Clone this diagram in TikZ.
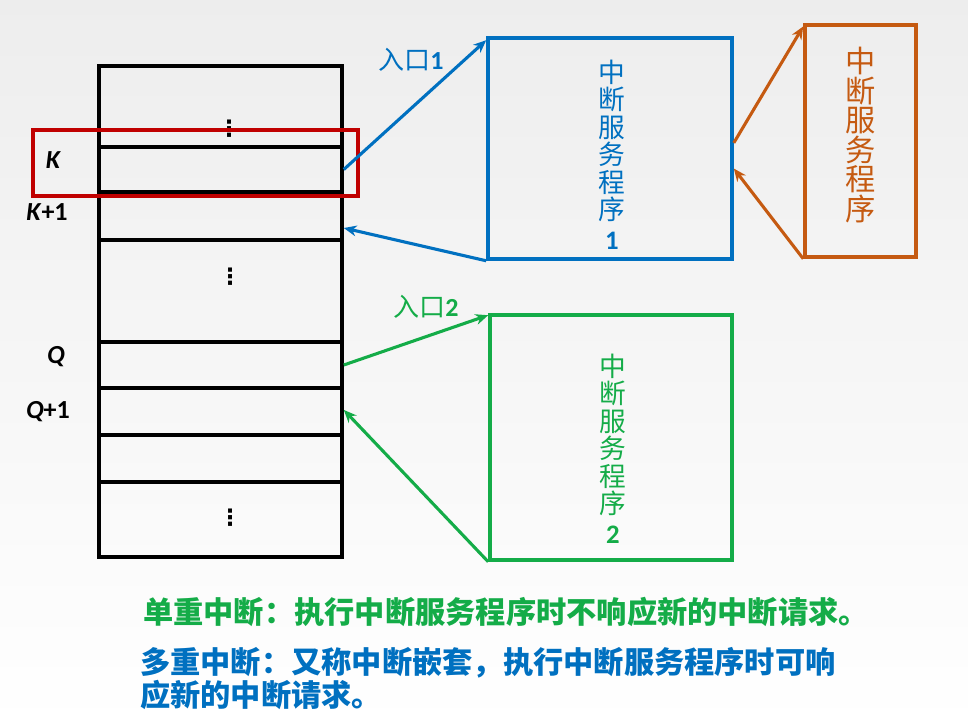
\documentclass[tikz,border=0pt]{standalone}
\usepackage{fontspec}
\setmainfont{Carlito}
\newfontfamily\cjk{Noto Sans CJK SC}
\newfontfamily\symfont{DejaVu Sans}
\usetikzlibrary{arrows.meta, positioning, calc}
\definecolor{progblue}{RGB}{0,112,192}
\definecolor{proggreen}{RGB}{20,172,72}
\definecolor{progorange}{RGB}{197,90,17}
\definecolor{markred}{RGB}{192,0,0}
\tikzset{
  cell/.style={rectangle, draw=black, line width=2.5pt, minimum width=6.075cm, inner sep=0pt},
  progbox/.style={rectangle, line width=2.5pt, align=center, inner sep=0pt},
  progtext/.style={align=center, inner sep=0pt, font=\cjk\fontsize{19}{19.5}\selectfont},
  addr/.style={font=\fontsize{18.5}{18.5}\selectfont\bfseries\itshape},
  entry/.style={font=\cjk\fontsize{18.5}{18.5}\selectfont},
  dots/.style={font=\symfont\bfseries\fontsize{16}{16}\selectfont, inner sep=0pt},
  flow/.style={-{Stealth[length=3.2mm, width=2.7mm]}, line width=2.2pt},
  note/.style={font=\cjk\bfseries\fontsize{21.5}{23.5}\selectfont, align=left, inner sep=0pt, anchor=west},
}
\begin{document}
\begin{tikzpicture}[x=0.025cm, y=-0.025cm]
  \shade[top color=black!7, bottom color=white] (0,0) rectangle (968,728);
  \useasboundingbox (0,0) rectangle (968,728);

  % memory column
  \node[cell, minimum height=2.025cm] (rowTop) at (220.5,106.5) {};
  \node[cell, minimum height=1.125cm] (rowK) at (220.5,169.5) {};
  \node[cell, minimum height=1.2cm] (rowK1) at (220.5,216) {};
  \node[cell, minimum height=2.55cm] (rowMid) at (220.5,291) {};
  \node[cell, minimum height=1.15cm] (rowQ) at (220.5,365) {};
  \node[cell, minimum height=1.175cm] (rowQ1) at (220.5,411.5) {};
  \node[cell, minimum height=1.175cm] (rowQ2) at (220.5,458.5) {};
  \node[cell, minimum height=1.875cm] (rowEnd) at (220.5,519.5) {};

  \node[dots] (dotsTop) at (229,129) {⋮};
  \node[dots] (dotsMid) at (230,277) {⋮};
  \node[dots] (dotsEnd) at (230,518) {⋮};

  \node[addr] (lblK) at (53,160) {K};
  \node[addr] (lblK1) at (47,212) {K\textup{+1}};
  \node[addr] (lblQ) at (56,357) {Q};
  \node[addr] (lblQ1) at (48,412) {Q\textup{+1}};

  \node[rectangle, draw=markred, line width=3pt, minimum width=8.125cm, minimum height=1.65cm]
    (mark) at (195.5,163) {};

  % service routines
  \node[progbox, draw=progblue, minimum width=6.1cm, minimum height=5.525cm] (prog1) at (610,148.5) {};
  \node[progtext, text=progblue] (txt1) at (612,155)
    {中\\断\\服\\务\\程\\序\\[2pt]{\normalfont\bfseries 1}};
  \node[progbox, draw=progorange, text=progorange, minimum width=2.775cm, minimum height=5.8cm,
        font=\cjk\fontsize{21.5}{21}\selectfont]
    (prog3) at (860.5,141) {中\\断\\服\\务\\程\\序\\[-11pt]};
  \node[progbox, draw=proggreen, minimum width=6.05cm, minimum height=6.125cm] (prog2) at (611,437.5) {};
  \node[progtext, text=proggreen] (txt2) at (613,449)
    {中\\断\\服\\务\\程\\序\\[2pt]{\normalfont\bfseries 2}};

  \node[entry, text=progblue] (in1) at (411,60) {入口{\normalfont\bfseries 1}};
  \node[entry, text=proggreen] (in2) at (426,307) {入口{\normalfont\bfseries 2}};

  \draw[flow, progblue] (rowK.east) -- ([yshift=-1mm]prog1.north west);
  \draw[flow, progblue] (prog1.south west) -- ([yshift=-3mm]rowK1.east);
  \draw[flow, progorange] ([yshift=1.4mm]prog1.east) -- ([yshift=-0.8mm]prog3.north west);
  \draw[flow, progorange] (prog3.south west) -- ([yshift=-5mm]prog1.east);
  \draw[flow, proggreen] (rowQ.east) -- ([yshift=-0.5mm]prog2.north west);
  \draw[flow, proggreen] (prog2.south west) -- ([yshift=0.4mm]rowQ1.east);

  % notes
  \node[note, text=proggreen] (single) at (143,612) {单重中断：执行中断服务程序时不响应新的中断请求。};
  \node[note, text=progblue] (multi) at (140,678.5)
    {多重中断：又称中断嵌套，执行中断服务程序时可响\\应新的中断请求。};
\end{tikzpicture}
\end{document}
